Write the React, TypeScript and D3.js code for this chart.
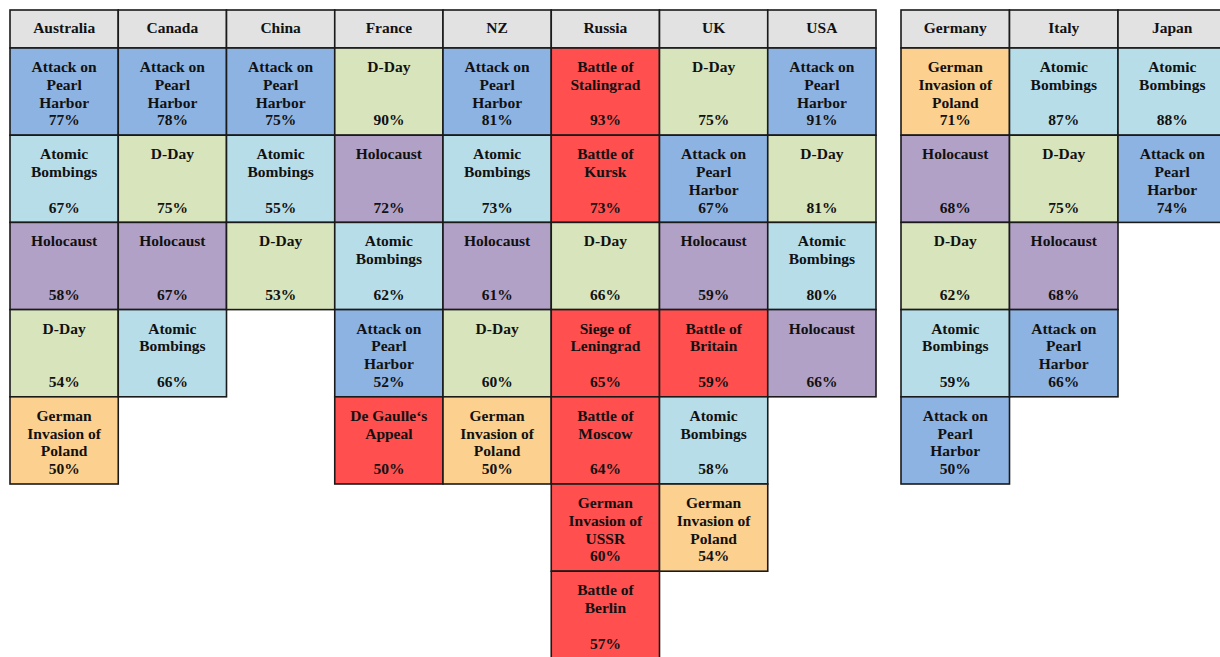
import React from "react";
import * as d3 from "d3";

// countries, left table and right table
const leftCountries = ["Australia", "Canada", "China", "France", "NZ", "Russia", "UK", "USA"];
const rightCountries = ["Germany", "Italy", "Japan"];

// event labels (with line breaks) and their fill colour
const eventLabels: Record<string, string[]> = {
  pearl: ["Attack on", "Pearl", "Harbor"],
  atomic: ["Atomic", "Bombings"],
  dday: ["D-Day"],
  holocaust: ["Holocaust"],
  poland: ["German", "Invasion of", "Poland"],
  stalingrad: ["Battle of", "Stalingrad"],
  kursk: ["Battle of", "Kursk"],
  leningrad: ["Siege of", "Leningrad"],
  moscow: ["Battle of", "Moscow"],
  ussr: ["German", "Invasion of", "USSR"],
  berlin: ["Battle of", "Berlin"],
  britain: ["Battle of", "Britain"],
  degaulle: ["De Gaulle\u2018s", "Appeal"],
};
const eventColors: Record<string, string> = {
  pearl: "#8db3e2",
  atomic: "#b7dde8",
  dday: "#d7e4bc",
  holocaust: "#b2a1c7",
  poland: "#fcd08f",
  stalingrad: "#ff4f4f",
  kursk: "#ff4f4f",
  leningrad: "#ff4f4f",
  moscow: "#ff4f4f",
  ussr: "#ff4f4f",
  berlin: "#ff4f4f",
  britain: "#ff4f4f",
  degaulle: "#ff4f4f",
};

// ranked events and share (%) per country
const australiaEvents = ["pearl", "atomic", "holocaust", "dday", "poland"];
const australiaValues = [77, 67, 58, 54, 50];
const canadaEvents = ["pearl", "dday", "holocaust", "atomic"];
const canadaValues = [78, 75, 67, 66];
const chinaEvents = ["pearl", "atomic", "dday"];
const chinaValues = [75, 55, 53];
const franceEvents = ["dday", "holocaust", "atomic", "pearl", "degaulle"];
const franceValues = [90, 72, 62, 52, 50];
const nzEvents = ["pearl", "atomic", "holocaust", "dday", "poland"];
const nzValues = [81, 73, 61, 60, 50];
const russiaEvents = ["stalingrad", "kursk", "dday", "leningrad", "moscow", "ussr", "berlin"];
const russiaValues = [93, 73, 66, 65, 64, 60, 57];
const ukEvents = ["dday", "pearl", "holocaust", "britain", "atomic", "poland"];
const ukValues = [75, 67, 59, 59, 58, 54];
const usaEvents = ["pearl", "dday", "atomic", "holocaust"];
const usaValues = [91, 81, 80, 66];
const germanyEvents = ["poland", "holocaust", "dday", "atomic", "pearl"];
const germanyValues = [71, 68, 62, 59, 50];
const italyEvents = ["atomic", "dday", "holocaust", "pearl"];
const italyValues = [87, 75, 68, 66];
const japanEvents = ["atomic", "pearl"];
const japanValues = [88, 74];

const table: Record<string, [string[], number[]]> = {
  Australia: [australiaEvents, australiaValues],
  Canada: [canadaEvents, canadaValues],
  China: [chinaEvents, chinaValues],
  France: [franceEvents, franceValues],
  NZ: [nzEvents, nzValues],
  Russia: [russiaEvents, russiaValues],
  UK: [ukEvents, ukValues],
  USA: [usaEvents, usaValues],
  Germany: [germanyEvents, germanyValues],
  Italy: [italyEvents, italyValues],
  Japan: [japanEvents, japanValues],
};

const width = 1220;
const height = 657;
const headerTop = 10;
const headerH = 38;
const rowH = 87.2;
const font = "Liberation Serif, Tinos, Times New Roman, Times, DejaVu Serif, serif";
const lineGap = 17.8;

const xLeft = d3.scaleBand().domain(leftCountries).range([10, 876]);
const xRight = d3.scaleBand().domain(rightCountries).range([901, 1226.5]);
const y = d3.scaleLinear().domain([0, 1]).range([headerTop + headerH, headerTop + headerH + rowH]);

const Column = ({ country, x }: { country: string; x: d3.ScaleBand<string> }) => {
  const x0 = x(country) as number;
  const w = x.bandwidth();
  const cx = x0 + w / 2;
  const [events, values] = table[country];
  return (
    <g>
      <rect x={x0} y={headerTop} width={w} height={headerH} fill="#e2e2e2" stroke="#1a1a1a" strokeWidth={1.6} />
      <text x={cx} y={headerTop + 22.5} textAnchor="middle" style={{ fontFamily: font }} fontWeight="bold" fontSize={15.5} fill="#111">
        {country}
      </text>
      {events.map((ev, i) => {
        const top = y(i);
        return (
          <g key={i}>
            <rect x={x0} y={top} width={w} height={rowH} fill={eventColors[ev]} stroke="#1a1a1a" strokeWidth={1.6} />
            <text textAnchor="middle" style={{ fontFamily: font }} fontWeight="bold" fontSize={15.5} fill="#111">
              {eventLabels[ev].map((line, j) => (
                <tspan key={j} x={cx} y={top + 24 + j * lineGap}>
                  {line}
                </tspan>
              ))}
              <tspan x={cx} y={top + 24 + 3 * lineGap}>
                {values[i]}%
              </tspan>
            </text>
          </g>
        );
      })}
    </g>
  );
};

export default function App() {
  return (
    <svg
      width={width}
      height={height}
      viewBox={`0 0 ${width} ${height}`}
      style={{ position: "absolute", left: 0, top: 0, background: "white" }}
    >
      {leftCountries.map((c) => (
        <Column key={c} country={c} x={xLeft} />
      ))}
      {rightCountries.map((c) => (
        <Column key={c} country={c} x={xRight} />
      ))}
    </svg>
  );
}
